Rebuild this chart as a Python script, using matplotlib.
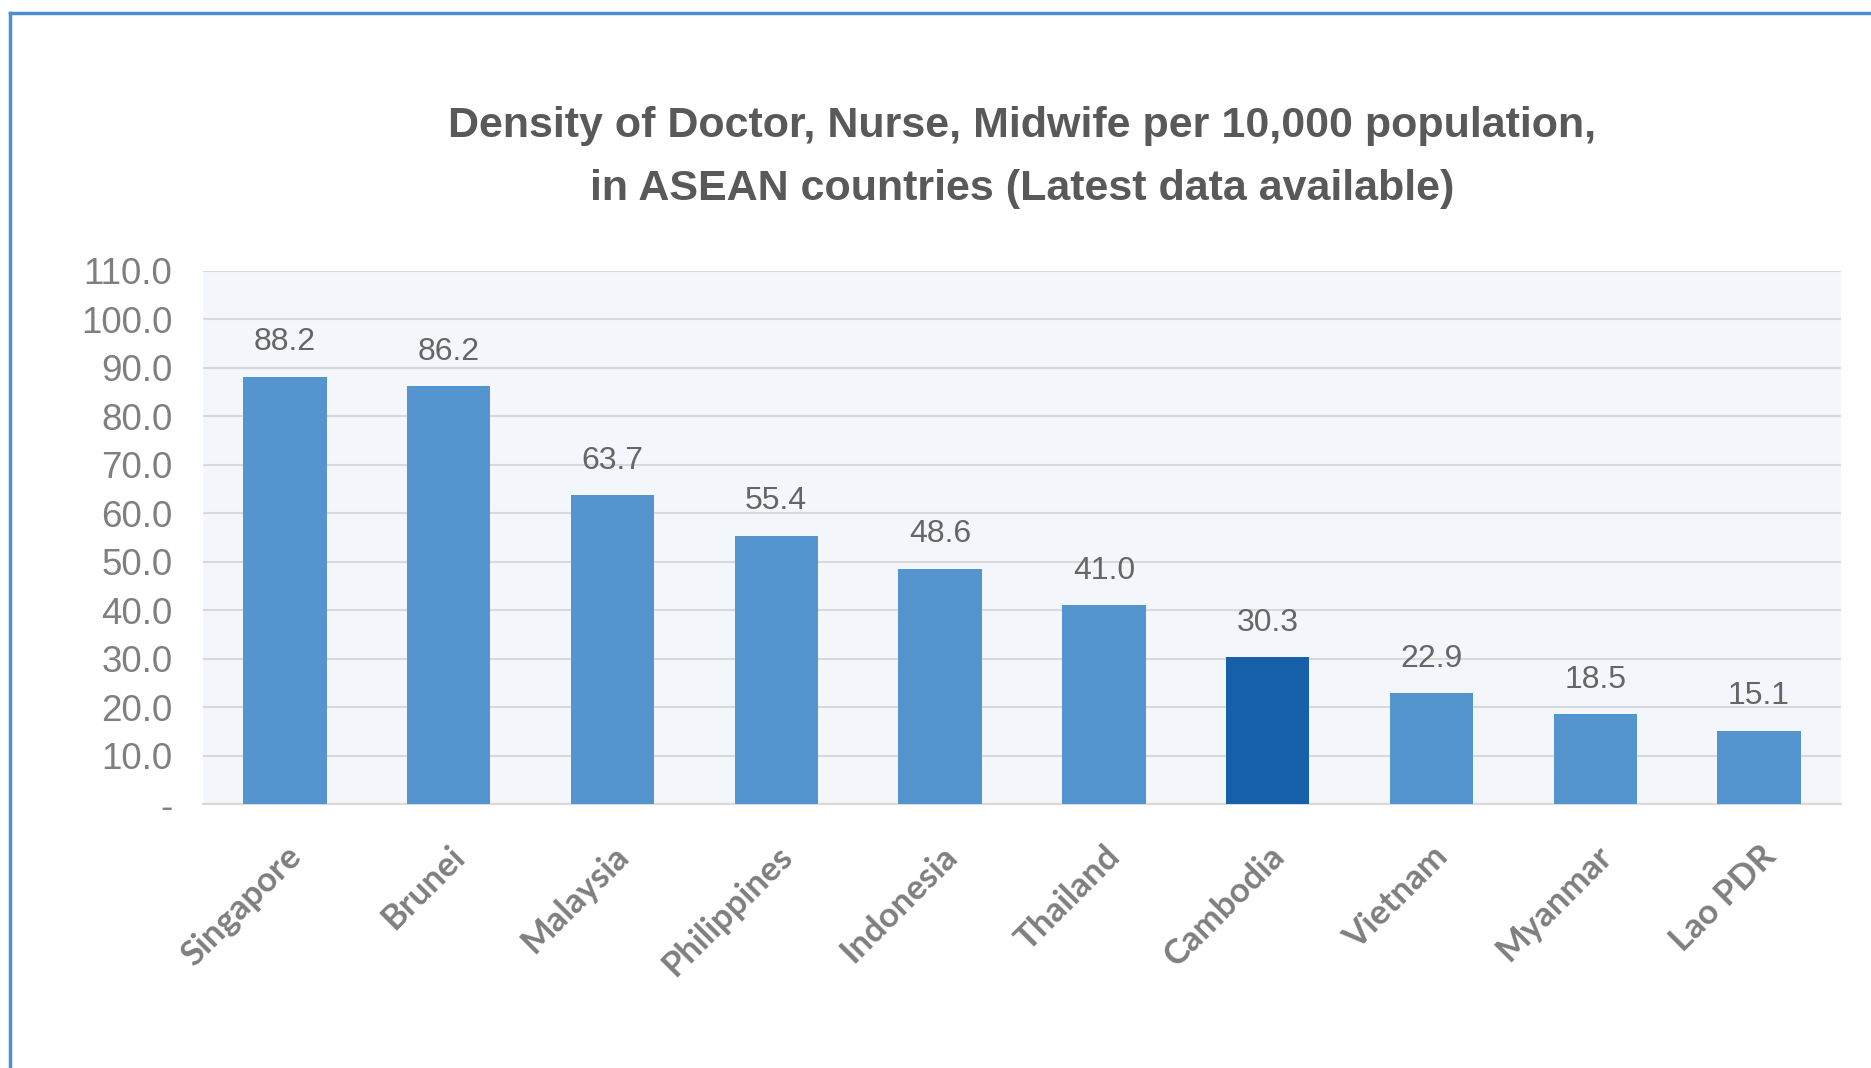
import numpy as np
from matplotlib import pyplot as plt
from matplotlib.lines import Line2D

countries = ["Singapore", "Brunei", "Malaysia", "Philippines", "Indonesia",
             "Thailand", "Cambodia", "Vietnam", "Myanmar", "Lao PDR"]
density = [88.2, 86.2, 63.7, 55.4, 48.6, 41.0, 30.3, 22.9, 18.5, 15.1]
highlight = "Cambodia"
yticks = [0, 10, 20, 30, 40, 50, 60, 70, 80, 90, 100, 110]

W, H = 1871, 1068
fig = plt.figure(figsize=(W / 100, H / 100), dpi=100)
fig.patch.set_facecolor("white")

# plot area in pixels
left, right, top, bottom = 203, 1841, 271, 804
ax = fig.add_axes([left / W, 1 - bottom / H, (right - left) / W, (bottom - top) / H])
ax.set_facecolor("#f3f6fa")

x = np.arange(len(countries))
colors = ["#1560a8" if c == highlight else "#5495cf" for c in countries]
bars = ax.bar(x, density, width=0.51, color=colors, zorder=3)

ax.set_xlim(-0.5, len(countries) - 0.5)
ax.set_ylim(0, 110)
ax.set_yticks(yticks)
ax.set_yticklabels(["-"] + ["%.1f" % v for v in yticks[1:]],
                   fontsize=26.5, color="#7f7f7f", family="Liberation Sans")
ax.yaxis.grid(True, color="#d9d9d9", linewidth=1.5, zorder=0)
ax.tick_params(axis="both", length=0)
ax.tick_params(axis="y", pad=22)

ax.set_xticks(x)
ax.set_xticklabels(countries, rotation=45, ha="right", rotation_mode="anchor",
                   fontsize=25, fontweight="bold", color="#7f7f7f", family="Lato")
ax.tick_params(axis="x", pad=26)

for s in ["top", "right", "left"]:
    ax.spines[s].set_visible(False)
ax.spines["bottom"].set_color("#d9d9d9")
ax.spines["bottom"].set_linewidth(1.5)

for b, v in zip(bars, density):
    ax.text(b.get_x() + b.get_width() / 2, v + 4, "%.1f" % v,
            ha="center", va="bottom", fontsize=23, color="#666666",
            family="Liberation Sans")

fig.text(1022 / W, 1 - 126 / H, "Density of Doctor, Nurse, Midwife per 10,000 population,",
         ha="center", va="center", fontsize=31, fontweight="bold",
         color="#595959", family="Liberation Sans")
fig.text(1022 / W, 1 - 189 / H, "in ASEAN countries (Latest data available)",
         ha="center", va="center", fontsize=31, fontweight="bold",
         color="#595959", family="Liberation Sans")

# blue frame, cropped on the right and bottom
fig.add_artist(Line2D([10 / W, 1], [1 - 13 / H, 1 - 13 / H], color="#4f8fd0", linewidth=2.5))
fig.add_artist(Line2D([10 / W, 10 / W], [0, 1 - 13 / H], color="#4f8fd0", linewidth=2.5))

fig.savefig("out.png", dpi=100)
